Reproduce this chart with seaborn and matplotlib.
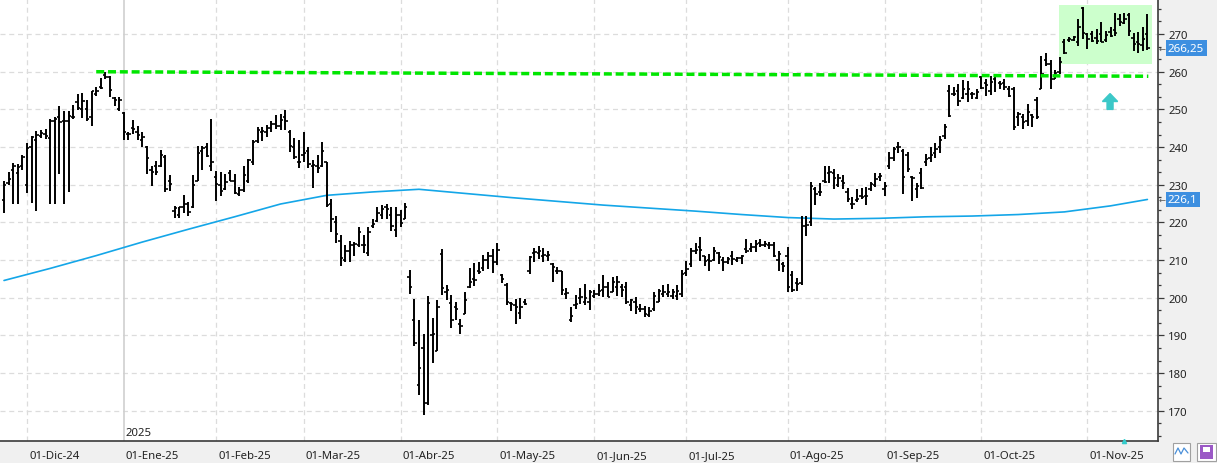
import numpy as np
import pandas as pd
import matplotlib
matplotlib.use("Agg")
import matplotlib.pyplot as plt
import matplotlib.transforms as mtransforms
from matplotlib.patches import Rectangle, FancyArrow
from matplotlib.ticker import MultipleLocator
import seaborn as sns

# ---- OHLC bars per month: (open, high, low, close) ----
nov24 = [(226.0, 231.1, 222.5, 229.9), (230.5, 233.4, 230.0, 231.6), (234.0, 235.8, 225.0, 234.9),
         (233.0, 235.5, 224.9, 234.8), (235.0, 237.8, 234.0, 237.4)]
dec24 = [(230.0, 241.0, 227.8, 239.8), (240.0, 242.9, 225.1, 242.6), (242.0, 244.2, 223.1, 243.2),
         (243.0, 244.6, 242.4, 243.8), (243.5, 244.9, 242.2, 242.9), (242.5, 247.5, 224.9, 247.0),
         (247.0, 248.1, 224.9, 247.5), (248.0, 250.9, 232.8, 246.6), (247.0, 249.5, 224.9, 247.0),
         (247.0, 249.5, 228.2, 248.2), (248.0, 251.3, 247.5, 248.0), (252.0, 254.0, 249.8, 250.4),
         (250.0, 254.4, 247.8, 252.2), (250.0, 252.4, 247.0, 247.5), (248.0, 255.0, 245.7, 254.9),
         (254.0, 255.9, 253.5, 255.0), (256.0, 258.4, 255.5, 255.7), (259.0, 260.0, 258.0, 258.5),
         (258.5, 258.8, 253.3, 255.2), (253.0, 253.3, 250.9, 252.4), (250.0, 253.3, 249.5, 252.4)]
jan25 = [(249.0, 249.3, 241.8, 244.0), (243.5, 244.0, 242.0, 243.5), (245.0, 247.3, 243.5, 244.8),
         (244.0, 245.5, 242.0, 243.1), (242.0, 244.0, 240.0, 242.7), (240.0, 240.2, 232.9, 237.1),
         (234.0, 234.9, 229.7, 233.5), (235.0, 236.2, 232.5, 233.5), (235.0, 239.1, 234.6, 238.0),
         (237.5, 238.0, 228.2, 229.0), (231.0, 232.5, 228.4, 230.2), (223.0, 224.4, 221.1, 223.8),
         (222.0, 224.2, 221.3, 224.0), (224.0, 227.3, 222.4, 224.9), (225.0, 225.4, 221.6, 222.9),
         (224.0, 232.5, 223.8, 230.0), (231.0, 240.2, 230.9, 238.4), (239.0, 240.2, 234.0, 239.8),
         (240.0, 241.1, 237.3, 237.7), (235.0, 247.5, 233.6, 236.0)]
feb25 = [(232.0, 233.6, 225.8, 230.2), (230.0, 233.3, 227.0, 228.3), (229.0, 232.9, 228.5, 230.7),
         (233.0, 234.0, 231.0, 231.0), (231.0, 232.8, 227.5, 227.7), (227.5, 229.3, 227.1, 228.5),
         (228.5, 235.1, 228.0, 232.5), (231.0, 236.8, 230.5, 236.5), (236.0, 241.9, 235.3, 241.4),
         (241.5, 245.2, 241.0, 244.5), (244.0, 245.2, 241.7, 244.3), (244.0, 245.9, 242.8, 245.0),
         (245.0, 247.0, 244.1, 246.0), (246.0, 248.6, 244.8, 245.6), (245.5, 248.8, 244.5, 247.2),
         (248.0, 249.8, 244.6, 246.8), (244.0, 244.6, 238.8, 240.2), (240.0, 242.3, 236.8, 237.3),
         (236.0, 241.9, 234.5, 236.0)]
mar25 = [(238.0, 243.9, 236.0, 238.3), (239.0, 240.1, 234.4, 235.5), (235.0, 236.6, 229.1, 235.3),
         (235.0, 237.9, 233.0, 234.5), (235.0, 241.3, 234.6, 239.0), (236.0, 236.0, 224.0, 224.5),
         (225.0, 226.1, 217.4, 221.0), (220.0, 221.8, 214.6, 217.0), (215.0, 216.7, 208.4, 210.5),
         (210.0, 213.9, 209.4, 212.5), (212.5, 215.2, 209.6, 214.0), (214.0, 214.9, 211.2, 214.2),
         (214.0, 218.7, 213.6, 217.5), (214.0, 216.7, 211.9, 214.0), (212.0, 218.7, 211.0, 217.5),
         (219.0, 220.9, 218.5, 219.5), (220.5, 224.0, 220.0, 222.6), (222.0, 224.5, 220.9, 223.5),
         (224.0, 224.9, 220.9, 223.6), (222.0, 224.0, 217.6, 219.0), (218.0, 224.0, 216.1, 222.0)]
apr25 = [(222.0, 223.3, 218.7, 219.8), (221.0, 225.1, 220.9, 224.0), (205.5, 207.4, 201.0, 203.0),
         (194.0, 199.7, 187.3, 188.0), (176.9, 194.0, 174.2, 181.3), (186.7, 190.4, 168.9, 172.0),
         (172.0, 200.4, 171.6, 198.5), (190.0, 194.7, 182.7, 190.5), (186.0, 199.3, 186.0, 197.5),
         (211.5, 213.0, 200.8, 202.5), (201.5, 203.4, 199.5, 202.0), (198.5, 200.8, 192.0, 194.0),
         (197.5, 199.0, 194.1, 197.0), (193.0, 194.5, 190.5, 192.5), (195.8, 201.5, 195.7, 199.4),
         (203.0, 207.8, 202.5, 204.1), (205.0, 209.2, 203.2, 204.6), (207.0, 209.4, 206.3, 206.8),
         (208.0, 211.4, 207.2, 210.0), (210.0, 212.1, 207.7, 211.2), (211.0, 213.0, 206.5, 209.4)]
may25 = [(209.4, 214.5, 208.6, 212.8), (206.0, 206.3, 203.9, 205.0), (203.5, 203.9, 198.1, 199.0),
         (198.5, 199.0, 196.6, 198.4), (198.0, 199.7, 193.1, 197.5), (196.0, 199.9, 194.4, 197.5),
         (199.0, 199.7, 198.0, 198.4), (207.0, 211.2, 206.3, 210.8), (212.0, 213.2, 209.4, 212.1),
         (212.0, 213.7, 210.3, 212.5), (211.0, 213.2, 209.4, 211.4), (211.0, 212.5, 209.7, 211.4),
         (209.0, 209.2, 204.1, 208.1), (207.0, 208.1, 206.3, 207.2), (207.0, 207.2, 200.8, 202.1),
         (201.0, 202.5, 199.7, 201.2), (194.0, 197.5, 193.5, 195.1), (198.0, 200.8, 197.0, 198.4),
         (200.0, 202.5, 198.4, 200.3), (199.0, 203.7, 198.1, 199.9), (199.0, 202.1, 196.8, 201.5)]
jun25 = [(200.5, 202.1, 199.9, 201.0), (201.0, 203.7, 200.6, 201.9), (202.0, 206.1, 200.3, 202.8),
         (203.0, 204.3, 200.1, 200.3), (201.5, 205.5, 201.5, 204.1), (203.0, 205.9, 200.6, 204.3),
         (203.0, 203.7, 200.1, 202.1), (203.0, 204.3, 198.4, 198.8), (198.0, 199.7, 196.6, 199.3),
         (199.0, 200.2, 195.7, 197.5), (197.0, 198.4, 196.2, 197.1), (197.0, 197.9, 195.0, 195.7),
         (195.5, 197.5, 194.8, 196.6), (197.0, 201.5, 196.6, 200.6), (199.0, 202.4, 198.8, 201.7),
         (201.0, 203.4, 200.1, 201.5), (201.0, 203.7, 200.1, 201.5), (200.5, 202.4, 199.7, 201.5),
         (200.5, 203.3, 199.3, 201.7), (201.0, 207.4, 200.1, 206.3)]
jul25 = [(206.5, 209.9, 205.9, 207.7), (209.0, 213.2, 208.1, 212.5), (212.5, 214.6, 211.6, 212.8),
         (213.5, 216.1, 209.9, 212.7), (211.0, 211.2, 208.4, 209.9), (210.0, 211.6, 207.0, 209.9),
         (210.0, 213.4, 209.9, 212.5), (212.0, 212.1, 209.0, 210.8), (210.0, 210.8, 207.2, 209.6),
         (209.5, 210.9, 209.0, 210.3), (211.0, 212.3, 208.6, 210.3), (210.0, 210.8, 209.4, 210.5),
         (210.5, 211.4, 209.0, 211.2), (213.0, 215.6, 211.8, 212.3), (213.0, 214.6, 212.1, 213.4),
         (213.5, 215.4, 212.1, 214.3), (214.5, 215.6, 213.4, 213.9), (214.0, 215.2, 213.4, 214.3),
         (214.0, 214.7, 213.0, 214.1), (214.0, 214.7, 210.8, 211.2), (210.0, 212.3, 207.2, 211.6),
         (209.0, 209.4, 206.8, 208.5)]
aug25 = [(211.0, 213.4, 201.5, 203.0), (206.0, 207.0, 201.5, 202.2), (204.0, 205.2, 201.9, 203.7),
         (204.0, 221.6, 203.3, 219.0), (219.0, 221.6, 216.3, 219.2), (220.0, 230.8, 219.0, 229.8),
         (229.0, 229.3, 224.5, 227.6), (228.0, 230.4, 227.1, 228.0), (231.0, 234.9, 230.5, 230.8),
         (233.0, 234.9, 230.6, 233.3), (233.0, 234.2, 228.9, 231.7), (230.0, 232.9, 229.3, 231.7),
         (231.0, 232.7, 228.9, 230.5), (228.0, 229.1, 225.5, 226.2), (225.0, 226.7, 223.6, 224.9),
         (226.0, 228.9, 225.3, 226.2), (227.0, 229.1, 226.2, 226.8), (227.0, 229.3, 224.5, 227.1),
         (229.0, 230.7, 228.4, 230.2), (230.0, 233.1, 229.3, 231.5), (232.0, 233.1, 231.1, 232.2)]
sep25 = [(229.0, 230.7, 226.9, 229.8), (235.0, 238.6, 234.2, 237.0), (237.0, 239.9, 236.4, 239.5),
         (240.0, 241.4, 238.4, 239.9), (239.0, 239.5, 227.6, 232.0), (238.0, 238.6, 233.3, 234.2),
         (232.0, 232.2, 225.8, 231.7), (229.0, 230.5, 226.4, 229.6), (233.0, 234.4, 228.9, 229.1),
         (236.0, 238.2, 234.9, 236.8), (237.0, 240.0, 236.0, 238.0), (238.5, 241.0, 237.0, 239.5),
         (240.0, 243.0, 238.5, 242.0), (243.0, 246.1, 242.1, 245.2), (255.0, 256.5, 247.9, 248.2),
         (254.0, 255.9, 253.6, 254.1), (255.0, 256.7, 251.0, 252.3), (253.0, 257.8, 252.8, 255.4),
         (254.0, 257.6, 251.9, 255.4), (254.0, 254.5, 252.8, 254.1), (253.0, 255.4, 252.8, 254.5)]
oct25 = [(258.5, 258.9, 255.4, 255.7), (257.0, 258.0, 253.6, 256.5), (255.0, 258.9, 253.8, 257.4),
         (258.0, 259.1, 254.7, 258.8), (257.0, 257.6, 255.4, 256.7), (257.0, 258.2, 255.2, 256.0),
         (255.5, 256.1, 253.2, 253.6), (255.5, 255.9, 244.5, 245.2), (248.0, 249.2, 245.7, 248.8),
         (248.0, 248.8, 244.8, 246.7), (247.0, 251.4, 245.7, 249.2), (248.5, 248.8, 245.2, 247.9),
         (252.5, 253.2, 247.4, 247.9), (255.5, 264.3, 255.4, 259.4), (263.0, 265.1, 261.6, 262.0),
         (262.0, 263.0, 255.4, 258.2), (258.0, 260.5, 258.0, 259.7), (260.0, 263.8, 259.4, 262.5),
         (268.0, 268.8, 264.7, 264.9), (268.5, 269.1, 268.0, 268.8), (268.5, 269.6, 268.2, 269.1),
         (268.0, 274.1, 266.9, 271.8), (277.0, 277.1, 268.7, 270.4)]
nov25 = [(270.0, 270.4, 266.0, 268.8), (270.0, 270.9, 267.8, 268.2), (269.0, 271.3, 267.3, 268.2),
         (270.0, 273.1, 267.8, 268.0), (268.5, 270.9, 267.8, 269.7), (270.5, 271.8, 269.1, 269.4),
         (271.0, 275.6, 269.6, 270.4), (274.0, 275.3, 272.2, 273.3), (273.0, 275.6, 272.6, 274.1),
         (275.0, 275.7, 269.6, 270.9), (269.0, 270.4, 265.6, 267.4), (268.0, 270.6, 265.1, 267.3),
         (267.0, 271.8, 265.6, 268.7), (270.0, 275.3, 265.8, 266.25)]

# moving average read at every 10th bar
ma_bar = [0, 10, 20, 30, 40, 50, 60, 70, 80, 90, 100, 110, 120, 130, 140, 150,
          160, 170, 180, 190, 200, 210, 220, 230, 240, 248]
ma_value = [204.6, 207.8, 211.2, 214.8, 218.2, 221.5, 224.9, 227.2, 228.1, 228.8, 227.7, 226.6,
            225.6, 224.6, 223.8, 223.0, 222.1, 221.3, 220.9, 221.1, 221.5, 221.7, 222.1, 222.8,
            224.4, 226.1]

month_labels = ["01-Dic-24", "01-Ene-25", "01-Feb-25", "01-Mar-25", "01-Abr-25", "01-May-25",
                "01-Jun-25", "01-Jul-25", "01-Ago-25", "01-Sep-25", "01-Oct-25", "01-Nov-25"]
market_holidays = ["2024-11-28", "2024-12-25", "2025-01-01", "2025-01-09", "2025-01-20",
                   "2025-02-17", "2025-04-18", "2025-05-26", "2025-06-19", "2025-07-04", "2025-09-01"]

# resistance line (bar index, price) and consolidation box
trend_bars = [20, 248.2]
trend_price = [260.0, 258.8]
box_bars = [228.9, 249.0]
box_price = [262.1, 277.6]
last_price = 266.25
last_ma = 226.1

# ---- build table ----
ohlc = pd.DataFrame(nov24 + dec24 + jan25 + feb25 + mar25 + apr25 + may25 + jun25 + jul25
                    + aug25 + sep25 + oct25 + nov25, columns=["open", "high", "low", "close"])
days = pd.bdate_range("2024-11-22", "2025-12-31")
days = days[~days.isin(pd.to_datetime(market_holidays))]
ohlc["date"] = days[:len(ohlc)]
ohlc["i"] = np.arange(len(ohlc))
firsts = ohlc.groupby(ohlc["date"].dt.to_period("M"))["i"].min()
month_pos = list(firsts.values[1:1 + len(month_labels)])

# ---- plot ----
sns.set_style("white")
plt.rcParams["font.family"] = ["Noto Sans", "DejaVu Sans"]

W, H = 1217, 464
fig = plt.figure(figsize=(W / 100, H / 100), dpi=100, facecolor="#f0f0f0")
ax = fig.add_axes([0, 22 / H, 1158 / W, 442 / H])
ax.set_facecolor("white")

x0, x1 = -0.87, 250.3
y0, y1 = 162.0, 279.3
ax.set_xlim(x0, x1)
ax.set_ylim(y0, y1)

# grid
for v in range(170, 280, 10):
    ax.axhline(v, color="#dcdcdc", lw=0.9, ls=(0, (4, 3)), zorder=0)
for k, p in enumerate(month_pos):
    if k == 1:
        ax.axvline(p, color="#cfcfcf", lw=1.2, zorder=0)
    else:
        ax.axvline(p, color="#dcdcdc", lw=0.9, ls=(0, (4, 3)), zorder=0)

# consolidation box
ax.add_patch(Rectangle((box_bars[0], box_price[0]), box_bars[1] - box_bars[0],
                       box_price[1] - box_price[0], facecolor="#ccffcc", edgecolor="none", zorder=1))

# moving average
sns.lineplot(x=ma_bar, y=ma_value, ax=ax, color="#14a6e8", lw=1.2, zorder=2)

# OHLC bars
ax.vlines(ohlc["i"], ohlc["low"], ohlc["high"], color="black", lw=1.4, zorder=3)
ax.hlines(ohlc["open"], ohlc["i"] - 0.5, ohlc["i"], color="black", lw=1.2, zorder=3)
ax.hlines(ohlc["close"], ohlc["i"], ohlc["i"] + 0.5, color="black", lw=1.2, zorder=3)

# resistance
ax.plot(trend_bars, trend_price, color="#00e600", lw=2.5, dashes=(2.3, 1.1), zorder=4)

# up arrow
ax.add_patch(FancyArrow(239.9, 250.0, 0, 4.2, width=1.3, head_width=3.3, head_length=2.1,
                        length_includes_head=True, color="#3cc8c8", zorder=4))
ax.plot([243], [y0], marker="^", ms=3, color="#33cccc", clip_on=False, zorder=5)

# axes styling
for s in ["top", "left"]:
    ax.spines[s].set_visible(False)
for s in ["right", "bottom"]:
    ax.spines[s].set_color("#3a3a3a")
    ax.spines[s].set_linewidth(1.2)

ax.yaxis.tick_right()
ax.set_yticks(range(170, 280, 10))
ax.yaxis.set_minor_locator(MultipleLocator(10 / 3))
ax.tick_params(axis="y", which="major", length=4.5, width=0.9, color="#3a3a3a",
               labelsize=8.2, pad=3, labelcolor="#222222")
ax.tick_params(axis="y", which="minor", length=2.5, width=0.9, color="#3a3a3a")

ax.set_xticks(month_pos)
ax.set_xticklabels(month_labels)
ax.tick_params(axis="x", which="major", length=5, width=0.9, color="#3a3a3a",
               labelsize=8.2, pad=1.5, labelcolor="#222222")
shift = mtransforms.ScaledTranslation(2 / 100, 0, fig.dpi_scale_trans)
for lbl in ax.get_xticklabels():
    lbl.set_horizontalalignment("left")
    lbl.set_transform(lbl.get_transform() + shift)
ax.set_xlabel("")
ax.set_ylabel("")

right = mtransforms.blended_transform_factory(ax.transAxes, ax.transData)
off = mtransforms.ScaledTranslation(10 / 100, 0, fig.dpi_scale_trans)
ax.text(1.0, 280, "280", transform=right + off, ha="left", va="center", fontsize=8.2,
        color="#222222", clip_on=False)

for price, txt in [(last_price, "266,25"), (last_ma, "226,1")]:
    ax.text(1.0, price, txt, transform=right + off, ha="left", va="center", fontsize=8.4,
            color="white", clip_on=False, zorder=6,
            bbox=dict(boxstyle="square,pad=0.2", fc="#3d8fe0", ec="none"))
    ax.text(1.0, price, "\u2190", transform=right + mtransforms.ScaledTranslation(1 / 100, 0, fig.dpi_scale_trans),
            ha="left", va="center", fontsize=6, color="#555555", clip_on=False)

bottom = mtransforms.blended_transform_factory(ax.transData, ax.transAxes)
ax.text(month_pos[1] + 0.4, 0.02, "2025", transform=bottom, ha="left", va="center",
        fontsize=8.2, color="#222222")

# toolbar icons bottom right
fig.patches.append(Rectangle((1173 / W, 2 / H), 17 / W, 18 / H, transform=fig.transFigure,
                             facecolor="white", edgecolor="#a0a0a0", lw=0.8))
fig.lines.append(plt.Line2D(np.array([1175, 1178, 1181, 1184, 1188]) / W,
                            np.array([9, 15, 9, 15, 10]) / H, transform=fig.transFigure,
                            color="#4a90d9", lw=0.9))
fig.patches.append(Rectangle((1197 / W, 2 / H), 19 / W, 18 / H, transform=fig.transFigure,
                             facecolor="white", edgecolor="#a0a0a0", lw=0.8))
fig.patches.append(Rectangle((1200 / W, 4 / H), 13 / W, 14 / H, transform=fig.transFigure,
                             facecolor="#9b59c6", edgecolor="none"))
fig.patches.append(Rectangle((1203 / W, 11 / H), 7 / W, 5 / H, transform=fig.transFigure,
                             facecolor="white", edgecolor="none"))

fig.savefig("out.png", dpi=100, facecolor=fig.get_facecolor())
